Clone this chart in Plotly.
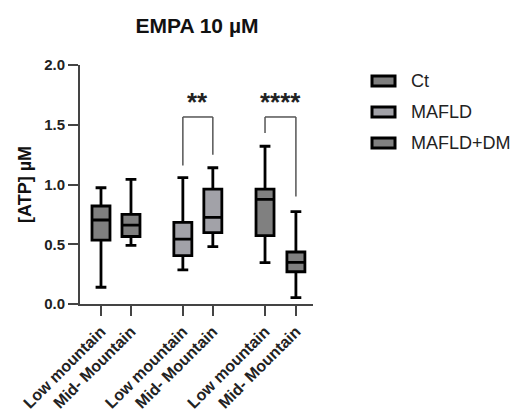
import plotly.graph_objects as go

# Groups and categories
groups = ["Ct", "MAFLD", "MAFLD+DM"]
sites = ["Low mountain", "Mid- Mountain"]
fills = ["#7f7f7f", "#a2a2a8", "#808080"]

# x positions of each box (two sites per group, gap between groups)
positions = [[0.0, 1.0], [2.73, 3.73], [5.47, 6.5]]

# Box statistics per group: [Low mountain, Mid- Mountain]
lower = [[0.14, 0.49], [0.285, 0.48], [0.346, 0.053]]
q1 = [[0.535, 0.565], [0.405, 0.597], [0.572, 0.27]]
median = [[0.703, 0.66], [0.543, 0.725], [0.876, 0.349]]
q3 = [[0.82, 0.75], [0.683, 0.962], [0.962, 0.435]]
upper = [[0.973, 1.043], [1.057, 1.14], [1.32, 0.773]]

# Significance brackets: x span, top, left leg end, right leg end, label
sig_x = [[2.73, 3.73], [5.47, 6.5]]
sig_top = [1.565, 1.565]
sig_left_end = [1.16, 1.43]
sig_right_end = [1.25, 0.9]
sig_text = ["**", "****"]
sig_text_y = [1.69, 1.69]

font_family = "Liberation Sans, Arial, sans-serif"
W, H = 520, 415
# plot area in pixels
PL, PR, PT, PB = 80, 313, 65, 304


def px_x(px):
    return (px - PL) / (PR - PL)


def px_y(py):
    return (PB - py) / (PB - PT)


fig = go.Figure()
for i, g in enumerate(groups):
    fig.add_trace(go.Box(
        name=g,
        x=positions[i],
        q1=q1[i], median=median[i], q3=q3[i],
        lowerfence=lower[i], upperfence=upper[i],
        width=0.6,
        whiskerwidth=0.6,
        fillcolor=fills[i],
        line=dict(color="#000000", width=2.8),
        boxpoints=False,
        showlegend=False,
    ))

for i in range(len(sig_text)):
    xa, xb = sig_x[i]
    bl = dict(color="#555555", width=1.5)
    fig.add_shape(type="line", x0=xa, x1=xa, y0=sig_left_end[i], y1=sig_top[i], line=bl, layer="below")
    fig.add_shape(type="line", x0=xa, x1=xb, y0=sig_top[i], y1=sig_top[i], line=bl, layer="below")
    fig.add_shape(type="line", x0=xb, x1=xb, y0=sig_right_end[i], y1=sig_top[i], line=bl, layer="below")
    fig.add_annotation(x=(xa + xb) / 2, y=sig_text_y[i], text=sig_text[i],
                       showarrow=False, yanchor="middle",
                       font=dict(family=font_family, size=26, color="#222222", weight="bold"))

# Legend: swatch + label per group
legend_y = [81, 112, 143]
for i, g in enumerate(groups):
    yc = legend_y[i]
    fig.add_shape(type="rect", xref="paper", yref="paper",
                  x0=px_x(372), x1=px_x(395), y0=px_y(yc + 5), y1=px_y(yc - 5),
                  fillcolor=fills[i], line=dict(color="#000000", width=3))
    fig.add_annotation(xref="paper", yref="paper", x=px_x(409), y=px_y(yc), text=g,
                       showarrow=False, xanchor="left", yanchor="middle",
                       font=dict(family=font_family, size=18, color="#222222"))

tickvals = [p for pair in positions for p in pair]
ticktext = sites * 3

fig.update_layout(
    width=W, height=H,
    margin=dict(l=PL, r=W - PR, t=PT, b=H - PB, autoexpand=False),
    plot_bgcolor="white", paper_bgcolor="white",
    font=dict(family=font_family, color="#222222"),
    title=dict(text="EMPA 10 µM", x=197 / W, xanchor="center", y=1 - 26 / H, yanchor="middle",
               font=dict(family=font_family, size=21, color="#111111", weight="bold")),
    showlegend=False,
    xaxis=dict(
        range=[-0.7, 7.07], tickmode="array", tickvals=tickvals, ticktext=ticktext,
        tickangle=-45, ticks="outside", ticklen=10, tickwidth=2, tickcolor="#444444",
        showline=True, linecolor="#444444", linewidth=2, showgrid=False, zeroline=False,
        automargin=False,
        tickfont=dict(family=font_family, size=16, color="#222222", weight="bold"),
    ),
    yaxis=dict(
        range=[0, 2], tickvals=[0, 0.5, 1.0, 1.5, 2.0], tickformat=".1f",
        ticks="outside", ticklen=10, tickwidth=2, tickcolor="#444444",
        showline=True, linecolor="#444444", linewidth=2, showgrid=False, zeroline=False,
        automargin=False,
        tickfont=dict(family=font_family, size=15, color="#222222", weight="bold"),
        title=dict(text="[ATP] µM", standoff=8,
                   font=dict(family=font_family, size=18, color="#111111", weight="bold")),
    ),
)

fig.write_html("out.html")
